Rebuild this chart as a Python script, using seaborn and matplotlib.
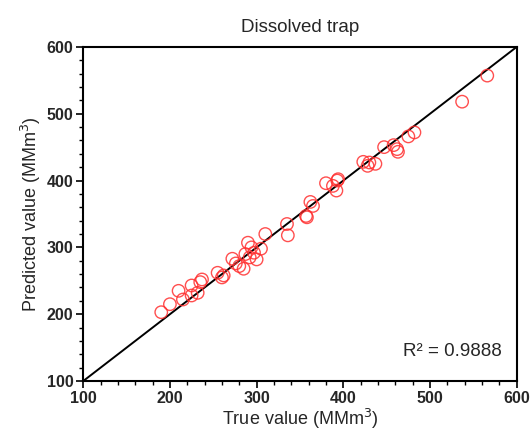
import matplotlib
matplotlib.use("Agg")
import matplotlib.pyplot as plt
import seaborn as sns
import pandas as pd
from matplotlib.ticker import MultipleLocator

true_vals = [190, 200, 210, 215, 225, 225, 232, 235, 237, 255, 260, 262, 272, 276,
             280, 285, 287, 290, 292, 294, 297, 300, 305, 310, 335, 336, 357, 358,
             362, 365, 380, 388, 392, 393, 394, 423, 428, 430, 437, 447, 458, 462,
             463, 475, 482, 537, 566]
pred_vals = [203, 215, 235, 222, 243, 228, 232, 248, 252, 262, 255, 258, 283, 276,
             272, 268, 290, 307, 285, 300, 292, 282, 298, 320, 335, 318, 347, 345,
             368, 362, 396, 392, 385, 400, 402, 428, 422, 427, 425, 450, 453, 447,
             443, 466, 472, 518, 557]
x_ticks = [100, 200, 300, 400, 500, 600]
y_ticks = [100, 200, 300, 400, 500, 600]

sns.set_style("white")
plt.rcParams['font.family'] = ['Liberation Sans', 'DejaVu Sans']

df = pd.DataFrame({"true": true_vals, "pred": pred_vals})

fig = plt.figure(figsize=(5.3, 4.34), dpi=100)
ax = fig.add_axes([0.157, 0.122, 0.818, 0.770])

ax.plot([100, 600], [100, 600], color="black", lw=1.4, zorder=1)
sns.scatterplot(data=df, x="true", y="pred", ax=ax, s=80, marker="o",
                facecolors="none", edgecolor="#ff3030", linewidth=1.0, alpha=0.85, zorder=2)

ax.set_xlim(100, 600)
ax.set_ylim(100, 600)
ax.set_xticks(x_ticks)
ax.set_yticks(y_ticks)
ax.set_xticklabels([str(t) for t in x_ticks], fontweight="bold", fontsize=11.5)
ax.set_yticklabels([str(t) for t in y_ticks], fontweight="bold", fontsize=11.5)
ax.xaxis.set_minor_locator(MultipleLocator(20))
ax.yaxis.set_minor_locator(MultipleLocator(20))
ax.tick_params(which="major", direction="out", length=5, width=1.2, color="black", pad=2,
               bottom=True, left=True)
ax.tick_params(which="minor", direction="out", length=3, width=1.0, color="black",
               bottom=True, left=True)
for sp in ax.spines.values():
    sp.set_color("black")
    sp.set_linewidth(1.5)

ax.set_xlabel("True value (MMm$^3$)", fontsize=13, labelpad=1)
ax.set_ylabel("Predicted value (MMm$^3$)", fontsize=13, labelpad=3)
ax.set_title("Dissolved trap", fontsize=13.5, pad=11)
ax.text(0.965, 0.087, "R² = 0.9888", transform=ax.transAxes, ha="right", va="center", fontsize=13.5)

fig.savefig("out.png", dpi=100)
